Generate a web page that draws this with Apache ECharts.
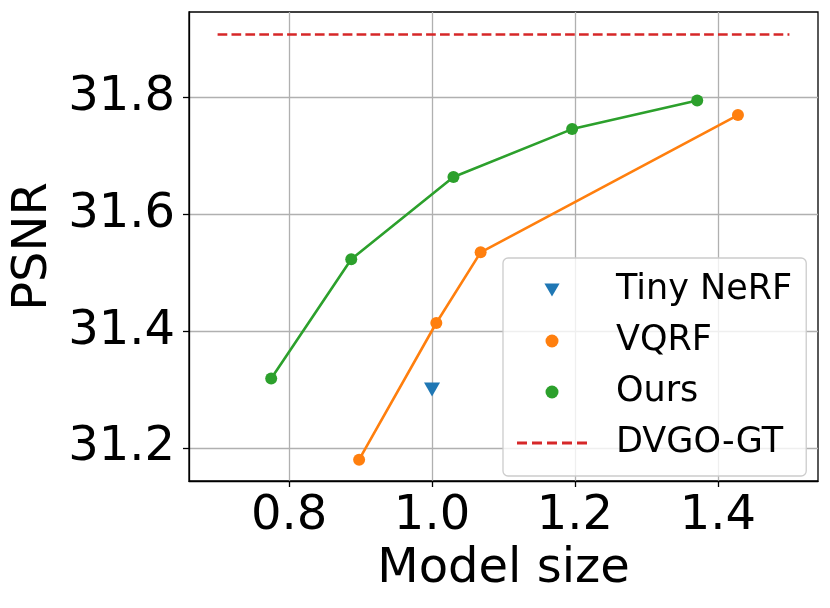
<!DOCTYPE html>
<html>
<head>
<meta charset="utf-8">
<script src="https://cdn.jsdelivr.net/npm/echarts@6/dist/echarts.min.js"></script>
<style>html,body{margin:0;padding:0;background:#fff;}#c{width:830px;height:608px;}</style>
</head>
<body>
<div id="c"></div>
<script>
// ---- data ----
const tinyNerf = [[1.0, 31.30]];
const vqrfX = [0.898, 1.006, 1.068, 1.428];
const vqrfY = [31.18, 31.414, 31.535, 31.770];
const oursX = [0.775, 0.887, 1.030, 1.196, 1.371];
const oursY = [31.319, 31.523, 31.664, 31.746, 31.795];
const dvgoX = [0.7, 1.5];
const dvgoY = [31.908, 31.908];
const xTicks = [0.8, 1.0, 1.2, 1.4];
const yTicks = [31.2, 31.4, 31.6, 31.8];
const seriesNames = ['Tiny NeRF', 'VQRF', 'Ours', 'DVGO-GT'];

const zip = (xs, ys) => xs.map((x, i) => [x, ys[i]]);
const font = 'DejaVu Sans';

const chart = echarts.init(document.getElementById('c'), null, {renderer: 'canvas'});
chart.setOption({
  animation: false,
  backgroundColor: '#ffffff',
  grid: {left: 189, right: 12, top: 12, bottom: 127, show: true, borderColor: '#000', borderWidth: 1.3, backgroundColor: 'transparent'},
  xAxis: {
    type: 'value', min: 0.66, max: 1.54,
    name: 'Model size', nameLocation: 'middle', nameGap: 58,
    nameTextStyle: {fontFamily: font, fontSize: 48, color: '#000'},
    axisLine: {show: true, onZero: false, lineStyle: {color: '#000', width: 1.3}},
    axisTick: {show: true, inside: false, length: 6, lineStyle: {color: '#000', width: 1.3}, customValues: xTicks},
    axisLabel: {fontFamily: font, fontSize: 48, color: '#000', margin: 12, customValues: xTicks,
      formatter: v => v.toFixed(1)},
    splitLine: {show: true, lineStyle: {color: '#b0b0b0', width: 1.3}}
  },
  yAxis: {
    type: 'value', min: 31.1435, max: 31.9465,
    name: 'PSNR', nameLocation: 'middle', nameGap: 128,
    nameTextStyle: {fontFamily: font, fontSize: 48, color: '#000'},
    axisLine: {show: true, onZero: false, lineStyle: {color: '#000', width: 1.3}},
    axisTick: {show: true, inside: false, length: 6, lineStyle: {color: '#000', width: 1.3}, customValues: yTicks},
    axisLabel: {fontFamily: font, fontSize: 48, color: '#000', margin: 14, customValues: yTicks,
      formatter: v => v.toFixed(1)},
    splitLine: {show: true, lineStyle: {color: '#b0b0b0', width: 1.3}}
  },
  legend: {
    orient: 'vertical', left: 503, top: 258,
    padding: [12, 14, 13, 14],
    itemWidth: 70, itemHeight: 13, itemGap: 11,
    backgroundColor: 'rgba(255,255,255,0.8)',
    borderColor: '#cccccc', borderWidth: 1.3, borderRadius: 5,
    textStyle: {fontFamily: font, fontSize: 35, color: '#000', lineHeight: 40, padding: [0, 0, 0, 24]},
    data: [
      {name: seriesNames[0], icon: 'path://M0,0L14,0L7,12Z', itemStyle: {opacity: 1}},
      {name: seriesNames[1], icon: 'circle'},
      {name: seriesNames[2], icon: 'circle'},
      {name: seriesNames[3], icon: 'path://M0,0h10v3h-10zM15,0h10v3h-10zM30,0h10v3h-10zM45,0h10v3h-10zM60,0h10v3h-10z'}
    ]
  },
  series: [
    {name: seriesNames[0], type: 'scatter', data: tinyNerf, symbol: 'triangle', symbolRotate: 180, symbolSize: [16, 14],
      itemStyle: {color: '#1f77b4', opacity: 1}, z: 3},
    {name: seriesNames[1], type: 'line', data: zip(vqrfX, vqrfY), symbol: 'circle', symbolSize: 12, showSymbol: true,
      lineStyle: {color: '#ff7f0e', width: 2.6}, itemStyle: {color: '#ff7f0e'}, z: 4},
    {name: seriesNames[2], type: 'line', data: zip(oursX, oursY), symbol: 'circle', symbolSize: 12, showSymbol: true,
      lineStyle: {color: '#2ca02c', width: 2.6}, itemStyle: {color: '#2ca02c'}, z: 5},
    {name: seriesNames[3], type: 'line', data: zip(dvgoX, dvgoY), symbol: 'none',
      lineStyle: {color: '#d62728', width: 2.6, type: [9.7, 4.2]}, itemStyle: {color: '#d62728'}, z: 6}
  ]
});
</script>
</body>
</html>
